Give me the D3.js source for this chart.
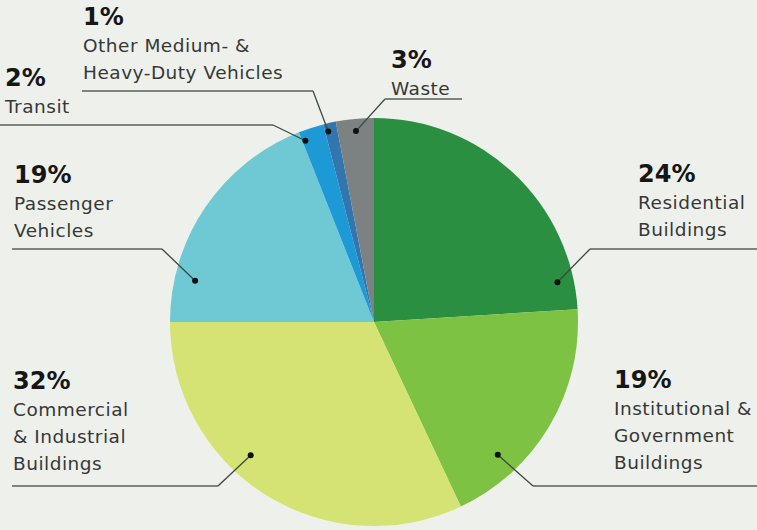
<!DOCTYPE html>
<html>
<head>
<meta charset="utf-8">
<script src="https://cdn.jsdelivr.net/npm/d3@7"></script>
<style>
  html, body { margin: 0; padding: 0; background: #eef0ec; }
  svg { display: block; }
</style>
</head>
<body>
<svg id="chart"></svg>
<script>
// slice data, clockwise from 12 o'clock
const sectors = ['Residential Buildings', 'Institutional & Government Buildings', 'Commercial & Industrial Buildings',
                 'Passenger Vehicles', 'Transit', 'Other Medium- & Heavy-Duty Vehicles', 'Waste'];
const shares = [24, 19, 32, 19, 2, 1, 3];
const labelLines = [
    ['Residential', 'Buildings'],
    ['Institutional &', 'Government', 'Buildings'],
    ['Commercial', '& Industrial', 'Buildings'],
    ['Passenger', 'Vehicles'],
    ['Transit'],
    ['Other Medium- &', 'Heavy-Duty Vehicles'],
    ['Waste']
];
const colors = ['#2a8f40', '#7dc243', '#d5e274', '#6fc9d4', '#1d9ad6', '#3276b0', '#7b8281'];

const width = 757;
const height = 530;
const cx = 374, cy = 322, radius = 204;

// where each label sits and how its leader runs (layout only)
// dotT: position of the dot inside the slice (0..1 of the angle), dotR: fraction of radius
const layout = [
    { x: 638, y: 182, lineY: 249, lineX: [590, 757], elbow: 590, dotT: 0.9, dotR: 0.92 },
    { x: 614, y: 388, lineY: 486, lineX: [533, 757], elbow: 533, dotT: 0.74, dotR: 0.89 },
    { x: 13, y: 389, lineY: 486, lineX: [12, 218], elbow: 218, dotT: 0.59, dotR: 0.89 },
    { x: 14, y: 183, lineY: 249, lineX: [12, 162], elbow: 162, dotT: 0.19, dotR: 0.9 },
    { x: 5, y: 86, lineY: 125, lineX: [0, 273], elbow: 273, dotT: 0.12, dotR: 0.95 },
    { x: 83, y: 25, lineY: 91, lineX: [82, 313], elbow: 313, dotT: 0.25, dotR: 0.96 },
    { x: 391, y: 68, lineY: 99, lineX: [385, 462], elbow: 385, dotT: 0.5, dotR: 0.94 }
];

const svg = d3.select('#chart')
    .attr('width', width)
    .attr('height', height);

const data = sectors.map((s, i) => ({ name: s, value: shares[i], lines: labelLines[i], color: colors[i], lay: layout[i] }));

const pie = d3.pie().sort(null).value(d => d.value);
const arcs = pie(data);
const arc = d3.arc().innerRadius(0).outerRadius(radius);

const g = svg.append('g').attr('transform', `translate(${cx},${cy})`);

g.selectAll('path').data(arcs).enter()
    .append('path')
    .attr('d', arc)
    .attr('fill', d => d.data.color);

// leader lines + labels
function dotPos(d) {
    const a = d.startAngle + (d.endAngle - d.startAngle) * d.data.lay.dotT;
    const r = radius * d.data.lay.dotR;
    return [cx + r * Math.sin(a), cy - r * Math.cos(a)];
}

const lead = svg.append('g');
arcs.forEach(d => {
    const L = d.data.lay;
    const p = dotPos(d);
    lead.append('line')
        .attr('x1', L.lineX[0]).attr('x2', L.lineX[1])
        .attr('y1', L.lineY).attr('y2', L.lineY)
        .attr('stroke', '#7d837f').attr('stroke-width', 2.2);
    lead.append('line')
        .attr('x1', L.elbow).attr('y1', L.lineY)
        .attr('x2', p[0]).attr('y2', p[1])
        .attr('stroke', '#3a4a40').attr('stroke-width', 1.3);
    lead.append('circle')
        .attr('cx', p[0]).attr('cy', p[1]).attr('r', 3)
        .attr('fill', '#111');
});

const labels = svg.append('g')
    .attr('font-family', '"DejaVu Sans", sans-serif');

arcs.forEach(d => {
    const L = d.data.lay;
    const t = labels.append('text')
        .attr('x', L.x).attr('y', L.y);
    t.append('tspan')
        .attr('x', L.x)
        .attr('font-size', '24px')
        .attr('font-weight', 'bold')
        .attr('fill', '#161616')
        .text(d.data.value + '%');
    d.data.lines.forEach(ln => {
        t.append('tspan')
            .attr('x', L.x)
            .attr('dy', 27)
            .attr('font-size', '18.5px')
            .attr('letter-spacing', '0.5px')
            .attr('fill', '#363836')
            .text(ln);
    });
});
</script>
</body>
</html>
